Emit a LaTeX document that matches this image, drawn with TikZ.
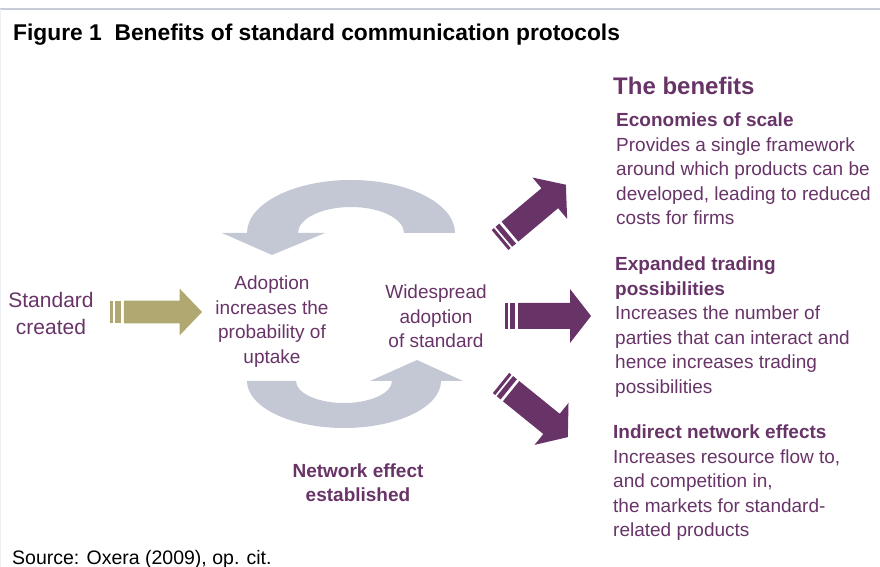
\documentclass[tikz,border=0pt]{standalone}
\usepackage{fontspec}
\setmainfont{Liberation Sans}
\usetikzlibrary{positioning}
\definecolor{plum}  {RGB}{104,52,104}
\definecolor{khaki} {RGB}{176,168,112}
\definecolor{cgray} {RGB}{195,200,212}
\definecolor{rule}  {RGB}{200,204,214}
\definecolor{lrule} {RGB}{236,238,243}
\newcommand\bodyfont{\fontsize{19}{24.5}\selectfont}

\tikzset{
  pics/stripedarrow/.style={code={
    \fill[#1] (0,-13) rectangle (3,13);
    \fill[#1] (5,-13) rectangle (10,13);
    \fill[#1] (13,-13) -- (65,-13) -- (65,-27) -- (86,0)
      -- (65,27) -- (65,13) -- (13,13) -- cycle;
  }},
  txt/.style={text=plum, inner sep=0pt, font=\bodyfont},
  benefit/.style={txt, anchor=base west, align=left},
}

\begin{document}
\begin{tikzpicture}[x=1pt, y=1pt]
  \useasboundingbox (0,0) rectangle (880,567);
  \draw[rule, line width=2pt] (0,558) -- (880,558);
  \draw[lrule, line width=1pt] (0.5,558) -- (0.5,0);

  \node[anchor=base west, inner sep=0pt,
        font=\fontsize{22.8}{27}\selectfont\bfseries] (title) at (13,526)
    {Figure 1\ \ Benefits of standard communication protocols};

  % the feedback loop
  \fill[cgray] (455,334) arc[start angle=0, end angle=180, x radius=104, y radius=53]
    -- (222,334) -- (272,312) -- (325,334) -- (298,334)
    arc[start angle=180, end angle=0, x radius=53, y radius=26] -- cycle;
  \fill[cgray] (247,186) arc[start angle=180, end angle=360, x radius=97, y radius=47]
    -- (463,186) -- (417,207) -- (370,186) -- (392,186)
    arc[start angle=0, end angle=-180, x radius=48, y radius=22] -- cycle;

  \node[txt, font=\fontsize{21}{27}\selectfont, align=center, anchor=base] (std)
    at (51,232) {Standard\\created};
  \node[txt, align=center, anchor=base] (adopt) at (272,203.5)
    {Adoption\\increases the\\probability of\\uptake};
  \node[txt, align=center, anchor=base] (wide) at (436,219)
    {Widespread\\adoption\\of standard};
  \node[txt, font=\bodyfont\bfseries, align=center, anchor=base] (net) at (358,65)
    {Network effect\\established};

  % block arrows
  \coordinate (khtail) at (110,255);
  \coordinate (uptail) at (500,327);
  \coordinate (midtail) at (505,251);
  \coordinate (lowtail) at (501,184);
  \pic[xscale=1.07, yscale=0.87] at (khtail) {stripedarrow=khaki};
  \pic[rotate=40] at (uptail) {stripedarrow=plum};
  \pic at (midtail) {stripedarrow=plum};
  \pic[rotate=-39] at (lowtail) {stripedarrow=plum};

  \node[benefit, font=\fontsize{24}{28}\selectfont\bfseries] (ben) at (613,472)
    {The benefits};
  \node[benefit] (scale) at (616,342)
    {\textbf{Economies of scale}\\Provides a single framework\\around which products can be\\developed, leading to reduced\\costs for firms};
  \node[benefit] (trade) at (615,173.5)
    {\textbf{Expanded trading}\\\textbf{possibilities}\\Increases the number of\\parties that can interact and\\hence increases trading\\possibilities};
  \node[benefit] (indir) at (613,30)
    {\textbf{Indirect network effects}\\Increases resource flow to,\\and competition in,\\the markets for standard-\\related products};

  \node[anchor=base west, inner sep=0pt, font=\fontsize{19.5}{24}\selectfont] (src)
    at (12,2) {Source: Oxera (2009), op. cit.};
\end{tikzpicture}
\end{document}
